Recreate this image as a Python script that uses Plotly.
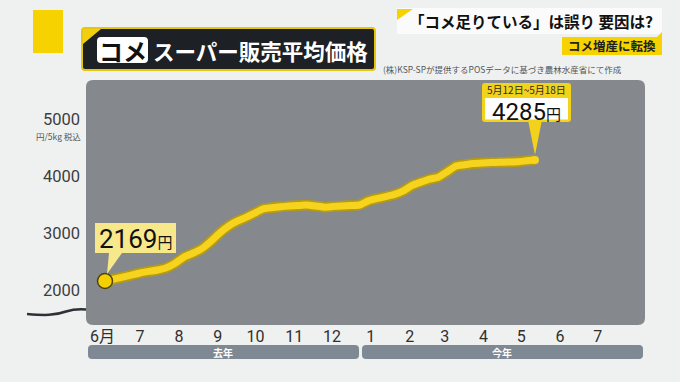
import plotly.graph_objects as go
import pandas as pd

# ---------------- data ----------------
week_start = "2024-06-03"
prices = [2169, 2201, 2236, 2273, 2310, 2337, 2362, 2400, 2479, 2587,
          2654, 2731, 2853, 2998, 3120, 3210, 3276, 3351, 3428, 3450,
          3468, 3479, 3489, 3498, 3479, 3460, 3470, 3479, 3489, 3498,
          3570, 3610, 3645, 3683, 3745, 3840, 3897, 3949, 3984, 4080,
          4181, 4202, 4222, 4232, 4240, 4245, 4248, 4252, 4270, 4285]
month_labels = ["6月", "7", "8", "9", "10", "11", "12", "1", "2", "3", "4", "5", "6", "7"]
month_start, month_end = "2024-06-01", "2025-07-01"
y_ticks = [2000, 3000, 4000, 5000]
y_tick_labels = ["2000", "3000", "4000", "5000"]
y_unit = "円/5kg 税込"
year_labels = ["去年", "今年"]
start_value_label = "2169"
end_value_label = "4285"
end_period_label = "5月12日~5月18日"
title_tag = "コメ"
title_text = "スーパー販売平均価格"
headline = "「コメ足りている」は誤り 要因は?"
subhead = "コメ増産に転換"
source = "(株)KSP-SPが提供するPOSデータに基づき農林水産省にて作成"

dates = pd.date_range(week_start, periods=len(prices), freq="7D")
month_ticks = pd.date_range(month_start, month_end, freq="MS")

# ---------------- layout helpers (pixel -> paper) ----------------
W, H = 680, 382
L, R, T, B = 86, 645, 80, 325
PW, PH = R - L, B - T


def X(px):
    return (px - L) / PW


def Y(py):
    return (B - py) / PH


def rrect(x0, y0, x1, y1, r):
    rx, ry = r / PW, r / PH
    a, b, c, d = X(x0), Y(y0), X(x1), Y(y1)  # b top, d bottom (paper)
    return (f"M {a+rx},{b} L {c-rx},{b} Q {c},{b} {c},{b-ry} "
            f"L {c},{d+ry} Q {c},{d} {c-rx},{d} L {a+rx},{d} "
            f"Q {a},{d} {a},{d+ry} L {a},{b-ry} Q {a},{b} {a+rx},{b} Z")


def poly(pts):
    s = " L ".join(f"{X(x)},{Y(y)}" for x, y in pts)
    return f"M {s} Z"


FONT = "Noto Sans CJK JP"
NUM = "Roboto, Noto Sans CJK JP"
YEL = "#f6d31c"

x_lo = dates[0] - pd.Timedelta(days=(105 - L) / 1.2536)
x_hi = dates[-1] + pd.Timedelta(days=(R - 535) / 1.2536)

fig = go.Figure()

# line outline + line
fig.add_trace(go.Scatter(x=dates, y=prices, mode="lines",
                         line=dict(color="#b79b12", width=10.5, shape="spline", smoothing=0.4),
                         hoverinfo="skip", showlegend=False))
fig.add_trace(go.Scatter(x=dates, y=prices, mode="lines",
                         line=dict(color=YEL, width=7, shape="spline", smoothing=0.4),
                         hoverinfo="skip", showlegend=False))
fig.add_trace(go.Scatter(x=[dates[-1]], y=[prices[-1]], mode="markers",
                         marker=dict(size=8, color=YEL), hoverinfo="skip", showlegend=False))
fig.add_trace(go.Scatter(x=[dates[0]], y=[prices[0]], mode="markers",
                         marker=dict(size=15, color="#f5d000", line=dict(color="#4b4310", width=1.5)),
                         hoverinfo="skip", showlegend=False))
# y tick dots
fig.add_trace(go.Scatter(x=[x_lo] * len(y_ticks), y=y_ticks, mode="markers",
                         marker=dict(size=7, color="#4f5459"), cliponaxis=False,
                         hoverinfo="skip", showlegend=False))

shapes = []
# plot panel
shapes.append(dict(type="path", xref="paper", yref="paper", path=rrect(L, T, R, B, 7),
                   fillcolor="#85898e", line=dict(width=0), layer="below"))
# axis break squiggle
shapes.append(dict(type="path", xref="paper", yref="paper",
                   path=f"M {X(27)},{Y(314)} C {X(45)},{Y(315.5)} {X(55)},{Y(315.5)} {X(66)},{Y(311.5)} "
                        f"C {X(74)},{Y(309)} {X(80)},{Y(309)} {X(86)},{Y(309.5)}",
                   line=dict(color="#2e3135", width=2.5)))
# year bars
shapes.append(dict(type="path", xref="paper", yref="paper", path=rrect(88, 345, 359, 359, 4),
                   fillcolor="#7e8993", line=dict(width=0)))
shapes.append(dict(type="path", xref="paper", yref="paper", path=rrect(362, 345, 643, 359, 4),
                   fillcolor="#7e8993", line=dict(width=0)))
# top-left yellow square
shapes.append(dict(type="rect", xref="paper", yref="paper", x0=X(33), x1=X(63), y0=Y(53), y1=Y(10),
                   fillcolor="#f6d200", line=dict(width=0)))
# title box
shapes.append(dict(type="path", xref="paper", yref="paper", path=rrect(82, 28, 375, 70, 3),
                   fillcolor="#1d2025", line=dict(color="#e6c50e", width=2)))
shapes.append(dict(type="path", xref="paper", yref="paper", path=poly([(83, 29), (101, 29), (83, 44)]),
                   fillcolor="#f0cf10", line=dict(width=0)))
shapes.append(dict(type="path", xref="paper", yref="paper", path=rrect(97, 37, 148, 63, 4),
                   fillcolor="#ffffff", line=dict(width=0)))
# headline box
shapes.append(dict(type="rect", xref="paper", yref="paper", x0=X(397), x1=X(662), y0=Y(34), y1=Y(8),
                   fillcolor="#fbfbfb", line=dict(width=0)))
shapes.append(dict(type="path", xref="paper", yref="paper", path=poly([(397, 9), (413, 9), (397, 20)]),
                   fillcolor="#f6d200", line=dict(width=0)))
shapes.append(dict(type="rect", xref="paper", yref="paper", x0=X(562), x1=X(662), y0=Y(55), y1=Y(37),
                   fillcolor="#f6d200", line=dict(width=0)))
shapes.append(dict(type="path", xref="paper", yref="paper", path=poly([(662, 32), (662, 38), (656, 38)]),
                   fillcolor="#f6d200", line=dict(width=0)))
# start callout
shapes.append(dict(type="path", xref="paper", yref="paper",
                   path=poly([(95, 223), (176, 223), (176, 253), (122, 253), (107, 274), (109, 253), (95, 253)]),
                   fillcolor="#f7e88c", line=dict(width=0), layer="above"))
# end callout
shapes.append(dict(type="path", xref="paper", yref="paper",
                   path=poly([(528, 120), (542, 120), (535, 155)]),
                   fillcolor="#f2d21a", line=dict(width=0), layer="above"))
shapes.append(dict(type="path", xref="paper", yref="paper", path=rrect(482, 83, 571, 122, 3),
                   fillcolor="#f2d21a", line=dict(width=0), layer="above"))
shapes.append(dict(type="rect", xref="paper", yref="paper", x0=X(485), x1=X(568), y0=Y(119.5), y1=Y(98),
                   fillcolor="#ffffff", line=dict(width=0), layer="above"))

ann = []


def text(px, py, s, size, color="#222", bold=False, xanchor="center", family=FONT):
    if bold:
        s = f"<b>{s}</b>"
    ann.append(dict(x=X(px), y=Y(py), xref="paper", yref="paper", text=s, showarrow=False,
                    xanchor=xanchor, yanchor="middle", borderpad=0,
                    font=dict(family=family, size=size, color=color)))


text(122.5, 50, title_tag, 24, "#111", True)
text(152, 50, title_text, 21.5, "#ffffff", True, "left")
text(531, 21, headline, 15.5, "#111", True)
text(612, 46, subhead, 12.5, "#222", True)
text(382, 69, source, 8.5, "#555", False, "left")
text(82, 135.5, y_unit, 8.5, "#555", False, "right")
text(223, 352, year_labels[0], 10, "#ffffff", True)
text(502, 352, year_labels[1], 10, "#ffffff", True)
text(135, 239, f"{start_value_label}<span style='font-size:15px'>円</span>", 26, "#111", family=NUM)
text(526, 89.5, end_period_label, 10, "#2a2a2a")
text(526, 111.5, f"{end_value_label}<span style='font-size:15px'>円</span>", 24, "#111", family=NUM)

fig.update_layout(
    width=W, height=H, autosize=False,
    margin=dict(l=L, r=W - R, t=T, b=H - B, pad=0),
    paper_bgcolor="#eff1f1", plot_bgcolor="rgba(0,0,0,0)",
    shapes=shapes, annotations=ann, showlegend=False,
    xaxis=dict(type="date", range=[str(x_lo), str(x_hi)], tickvals=list(month_ticks), ticktext=month_labels,
               showgrid=False, zeroline=False, showline=False, ticks="",
               tickfont=dict(family=NUM, size=16, color="#2f2f2f")),
    yaxis=dict(range=[1400, 5683], tickvals=y_ticks, ticktext=y_tick_labels,
               showgrid=False, zeroline=False, showline=False, ticks="", ticklabelstandoff=5,
               tickfont=dict(family=NUM, size=16.5, color="#3e3e3e")),
)

fig.write_html("out.html", config={"displayModeBar": False},
               post_script="document.body.style.margin='0';document.body.style.background='#eff1f1';")
